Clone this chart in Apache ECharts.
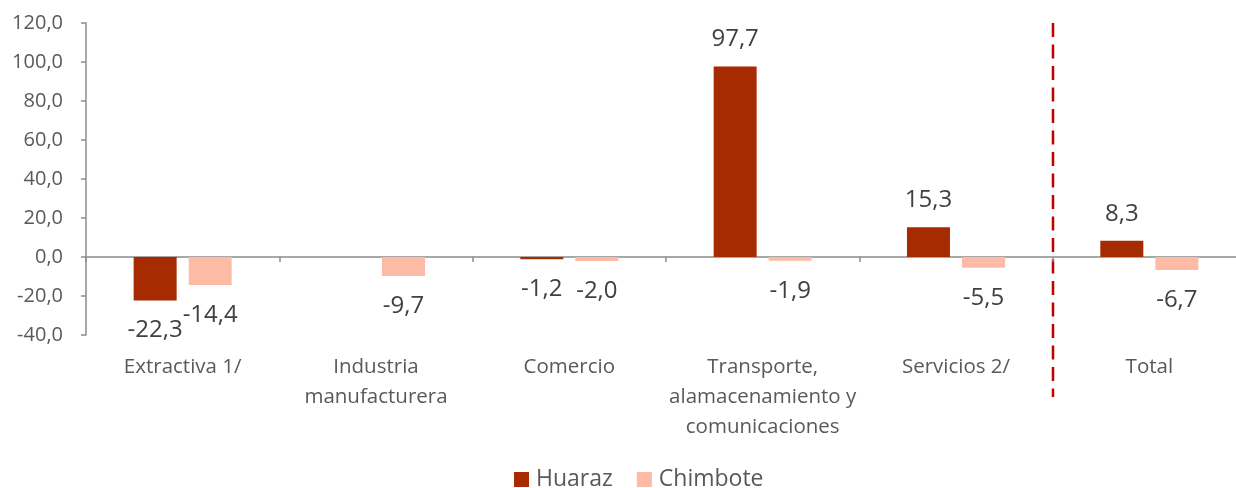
<!DOCTYPE html>
<html>
<head>
<meta charset="utf-8">
<script src="https://cdn.jsdelivr.net/npm/echarts@6/dist/echarts.min.js"></script>
<style>
  html, body { margin: 0; padding: 0; background: #fff; }
  #chart { width: 1236px; height: 488px; }
</style>
</head>
<body>
<div id="chart"></div>
<script>
const categories = ['Extractiva 1/', 'Industria\nmanufacturera', 'Comercio',
  'Transporte,\nalamacenamiento y\ncomunicaciones', 'Servicios 2/', 'Total']
const huaraz = [-22.3, null, -1.2, 97.7, 15.3, 8.3]
const chimbote = [-14.4, -9.7, -2.0, -1.9, -5.5, -6.7]
const yTicks = { min: -40, max: 120, interval: 20 }

const fmt = v => v.toFixed(1).replace('.', ',')
const FONT = '"Open Sans", "Liberation Sans", sans-serif'

function withLabels(arr) {
  return arr.map(v => v == null ? null : {
    value: v,
    label: { position: v < 0 ? 'bottom' : 'top', distance: v < 0 ? 18 : 15 }
  })
}

const chart = echarts.init(document.getElementById('chart'))
const labelStyle = {
  show: true, color: '#404040', fontSize: 24, fontFamily: FONT,
  formatter: p => fmt(p.value)
}

chart.setOption({
  animation: false,
  grid: { left: 86, top: 23, width: 1160, height: 312, outerBoundsMode: 'none', containLabel: false },
  legend: {
    left: 509, bottom: -8, itemWidth: 15, itemHeight: 15, itemGap: 24, icon: 'rect',
    textStyle: { color: '#595959', fontSize: 23, fontFamily: FONT, padding: [0, 0, 0, 2] },
    data: ['Huaraz', 'Chimbote']
  },
  xAxis: [{
    type: 'category', data: categories,
    axisLine: { onZero: true, lineStyle: { color: '#8c8c8c', width: 1.5 } },
    axisTick: { show: true, length: 5, lineStyle: { color: '#8c8c8c', width: 1.5 } },
    axisLabel: { show: false }
  }, {
    type: 'category', data: categories, position: 'bottom',
    axisLine: { show: false }, axisTick: { show: false },
    axisLabel: {
      margin: 17, color: '#595959', fontSize: 20.5, lineHeight: 30, fontFamily: FONT, interval: 0
    }
  }],
  yAxis: {
    type: 'value', ...yTicks,
    axisLine: { show: true, lineStyle: { color: '#8c8c8c', width: 1.5 } },
    axisTick: { show: true, length: 5, lineStyle: { color: '#8c8c8c', width: 1.5 } },
    splitLine: { show: false },
    axisLabel: { margin: 23, color: '#595959', fontSize: 20, fontFamily: FONT, formatter: fmt }
  },
  series: [{
    name: 'Huaraz', type: 'bar', data: withLabels(huaraz),
    barWidth: 43, barGap: '28%',
    itemStyle: { color: '#a72b00' }, label: labelStyle
  }, {
    name: 'Chimbote', type: 'bar', data: withLabels(chimbote),
    barWidth: 43,
    itemStyle: { color: '#fdbaa5' }, label: labelStyle
  }]
})

// dashed divider between "Servicios 2/" and "Total"
const c4 = chart.convertToPixel({ xAxisIndex: 0 }, 4)
const c5 = chart.convertToPixel({ xAxisIndex: 0 }, 5)
const xDiv = Math.round((c4 + c5) / 2)
const yTop = chart.convertToPixel({ yAxisIndex: 0 }, yTicks.max)
chart.setOption({
  graphic: [{
    type: 'line', silent: true,
    shape: { x1: xDiv, y1: yTop, x2: xDiv, y2: yTop + 374 },
    style: { stroke: '#c00000', lineWidth: 2.5, lineDash: [14, 7.5] }
  }]
})
</script>
</body>
</html>
